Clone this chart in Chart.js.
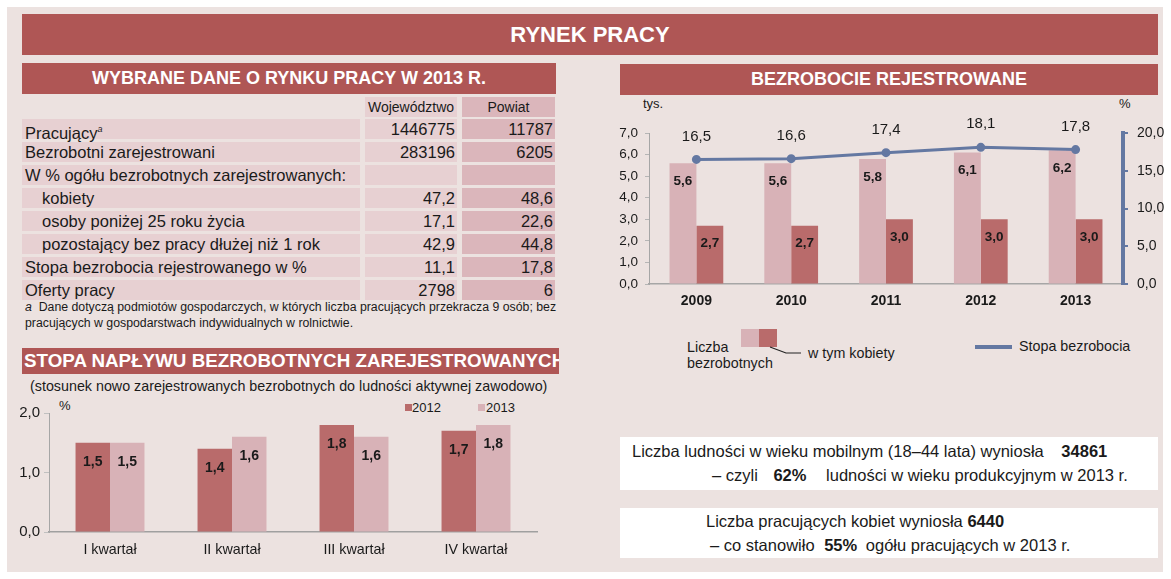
<!DOCTYPE html>
<html>
<head>
<meta charset="utf-8">
<script src="https://cdn.jsdelivr.net/npm/chart.js@4/dist/chart.umd.min.js"></script>
<style>
  body { margin: 0; width: 1171px; height: 579px; background: #fff; position: relative; overflow: hidden;
         font-family: "Liberation Sans", Arial, sans-serif; color: #1a1a1a; }
  .abs { position: absolute; }
  .bar { position: absolute; background: #af5655; color: #fff; font-weight: bold; display: flex;
         align-items: center; justify-content: center; white-space: nowrap; overflow: hidden; }
  .cell { position: absolute; height: 20px; line-height: 20px; font-size: 16.5px; white-space: nowrap; }
  .txt { position: absolute; white-space: nowrap; }
  .box { position: absolute; background: #fff; left: 620px; width: 538px; }
  .box div { position: absolute; font-size: 16.5px; white-space: nowrap; }
</style>
</head>
<body>
<div class="abs" style="left:7px;top:7px;width:1156px;height:565px;background:#ece2e0"></div>

<div class="bar" style="left:22px;top:14px;width:1136px;height:41px;font-size:22px">RYNEK PRACY</div>
<div class="bar" style="left:22px;top:63px;width:534px;height:31px;font-size:18px">WYBRANE DANE O RYNKU PRACY W 2013 R.</div>
<div class="bar" style="left:620px;top:64px;width:538px;height:31px;font-size:18px">BEZROBOCIE REJESTROWANE</div>
<div class="bar" style="left:22px;top:348px;width:535px;height:26px;font-size:18.8px;justify-content:flex-start;padding-left:2px">STOPA NAPŁYWU BEZROBOTNYCH ZAREJESTROWANYCH</div>

<div id="table"></div>
<div class="txt" style="left:25px;top:300px;font-size:12.3px"><i>a</i>&nbsp; Dane dotyczą podmiotów gospodarczych, w których liczba pracujących przekracza 9 osób; bez</div>
<div class="txt" style="left:25px;top:316px;font-size:12.3px">pracujących w gospodarstwach indywidualnych w rolnictwie.</div>

<div class="txt" style="left:30px;top:378px;font-size:14.3px">(stosunek nowo zarejestrowanych bezrobotnych do ludności aktywnej zawodowo)</div>
<div class="txt" style="left:59px;top:398px;font-size:13px">%</div>
<div id="legendInflow"></div>
<div class="abs" style="left:0;top:395px"><canvas id="inflowChart" width="560" height="170"></canvas></div>

<div class="txt" style="left:643px;top:96px;font-size:13px">tys.</div>
<div class="txt" style="left:1119px;top:96px;font-size:13px">%</div>
<div class="abs" style="left:600px;top:96px"><canvas id="unempChart" width="571" height="214"></canvas></div>
<div id="legendUnemp"></div>

<div class="box" style="top:437px;height:53px">
  <div style="left:12px;top:5px">Liczba ludności w wieku mobilnym (18–44 lata) wyniosła <b style="margin-left:13px">34861</b></div>
  <div style="left:92px;top:29px">– czyli <b style="margin-left:11px">62%</b> <span style="margin-left:15px">ludności w wieku produkcyjnym w 2013 r.</span></div>
</div>
<div class="box" style="top:508px;height:50px">
  <div style="left:86px;top:4px">Liczba pracujących kobiet wyniosła <b>6440</b></div>
  <div style="left:90px;top:28px">– co stanowiło <b style="margin-left:5px">55%</b> <span style="margin-left:4px">ogółu pracujących w 2013 r.</span></div>
</div>

<script>
// table: wybrane dane o rynku pracy
const tableLabels = ['Pracujący', 'Bezrobotni zarejestrowani', 'W % ogółu bezrobotnych zarejestrowanych:',
    'kobiety', 'osoby poniżej 25 roku życia', 'pozostający bez pracy dłużej niż 1 rok',
    'Stopa bezrobocia rejestrowanego w %', 'Oferty pracy'];
const tableVoivodeship = ['1446775', '283196', '', '47,2', '17,1', '42,9', '11,1', '2798'];
const tableDistrict = ['11787', '6205', '', '48,6', '22,6', '44,8', '17,8', '6'];
const indentedRows = [3, 4, 5];

// bezrobocie rejestrowane
const years = ['2009', '2010', '2011', '2012', '2013'];
const unemployedTotal = [5.6, 5.6, 5.8, 6.1, 6.2];
const unemployedWomen = [2.7, 2.7, 3.0, 3.0, 3.0];
const unemploymentRate = [16.5, 16.6, 17.4, 18.1, 17.8];
const leftTicks = [0, 1, 2, 3, 4, 5, 6, 7];
const rightTicks = [0, 5, 10, 15, 20];

// stopa napływu
const quarters = ['I kwartał', 'II kwartał', 'III kwartał', 'IV kwartał'];
const inflow2012 = [1.5, 1.4, 1.8, 1.7];
const inflow2013 = [1.5, 1.6, 1.6, 1.8];
const inflowTicks = [0, 1, 2];

const BAR_LIGHT = '#d8b2b7';
const BAR_DARK = '#b96b6b';
const LINE_BLUE = '#6478a2';
const CELL = '#e7d0d2';
const CELL_DARK = '#dbb6bb';
const FONT = '"Liberation Sans", Arial, sans-serif';

const fmt = v => Number(v).toFixed(1).replace('.', ',');

// build table
const table = document.getElementById('table');
let html = '<div class="cell" style="left:365px;top:97px;width:92px;background:' + CELL + ';font-size:14px;text-align:center">Województwo</div>';
html += '<div class="cell" style="left:462px;top:97px;width:93px;background:' + CELL_DARK + ';font-size:14px;text-align:center">Powiat</div>';
tableLabels.forEach((label, i) => {
    const top = 119 + i * 23;
    const pad = indentedRows.includes(i) ? 20 : 3;
    const sup = i === 0 ? '<sup style="font-size:9px;font-style:italic">a</sup>' : '';
    html += `<div class="cell" style="left:22px;top:${top}px;width:${338 - pad}px;padding-left:${pad}px;background:${CELL}">${label}${sup}</div>`;
    html += `<div class="cell" style="left:365px;top:${top}px;width:90px;padding-right:2px;text-align:right;background:${CELL}">${tableVoivodeship[i]}</div>`;
    html += `<div class="cell" style="left:462px;top:${top}px;width:91px;padding-right:2px;text-align:right;background:${CELL_DARK}">${tableDistrict[i]}</div>`;
});
table.innerHTML = html;

// legends
document.getElementById('legendInflow').innerHTML =
    `<div class="abs" style="left:405px;top:404px;width:7px;height:7px;background:${BAR_DARK}"></div>
     <div class="txt" style="left:412px;top:400px;font-size:13px">2012</div>
     <div class="abs" style="left:478px;top:404px;width:7px;height:7px;background:${BAR_LIGHT}"></div>
     <div class="txt" style="left:486px;top:400px;font-size:13px">2013</div>`;

document.getElementById('legendUnemp').innerHTML =
    `<div class="abs" style="left:741px;top:329px;width:18px;height:18px;background:${BAR_LIGHT}"></div>
     <div class="abs" style="left:759px;top:329px;width:18px;height:18px;background:${BAR_DARK}"></div>
     <div class="txt" style="left:687px;top:339px;font-size:14.3px;line-height:16px">Liczba<br>bezrobotnych</div>
     <svg class="abs" style="left:765px;top:340px" width="40" height="20"><polyline points="5,7 21,13 36,13" fill="none" stroke="#222" stroke-width="1.2"/></svg>
     <div class="txt" style="left:808px;top:345px;font-size:14.3px">w tym kobiety</div>
     <div class="abs" style="left:975px;top:345px;width:37px;height:4px;background:${LINE_BLUE}"></div>
     <div class="txt" style="left:1019px;top:338px;font-size:14.3px">Stopa bezrobocia</div>`;

// value labels drawn from the chart elements
const valueLabels = {
    id: 'valueLabels',
    afterDatasetsDraw(chart) {
        const ctx = chart.ctx;
        ctx.save();
        ctx.textAlign = 'center';
        ctx.textBaseline = 'middle';
        ctx.fillStyle = '#1a1a1a';
        chart.data.datasets.forEach((ds, i) => {
            const meta = chart.getDatasetMeta(i);
            ctx.font = ds.labelFont;
            meta.data.forEach((el, j) => {
                ctx.fillText(fmt(ds.data[j]), el.x, el.y + ds.labelOffset);
            });
        });
        ctx.restore();
    }
};

new Chart(document.getElementById('unempChart'), {
    data: {
        labels: years,
        datasets: [{
            type: 'line',
            data: unemploymentRate,
            yAxisID: 'y1',
            borderColor: LINE_BLUE,
            backgroundColor: LINE_BLUE,
            borderWidth: 3,
            pointRadius: 3,
            order: 0,
            labelFont: '15px ' + FONT,
            labelOffset: -23
        }, {
            type: 'bar',
            data: unemployedTotal,
            yAxisID: 'y',
            backgroundColor: BAR_LIGHT,
            barPercentage: 1,
            categoryPercentage: 0.567,
            order: 1,
            labelFont: 'bold 13.5px ' + FONT,
            labelOffset: 18
        }, {
            type: 'bar',
            data: unemployedWomen,
            yAxisID: 'y',
            backgroundColor: BAR_DARK,
            barPercentage: 1,
            categoryPercentage: 0.567,
            order: 1,
            labelFont: 'bold 13.5px ' + FONT,
            labelOffset: 18
        }]
    },
    options: {
        responsive: false,
        animation: false,
        layout: { padding: { top: 37 } },
        plugins: { legend: { display: false }, tooltip: { enabled: false } },
        scales: {
            x: {
                grid: { drawOnChartArea: false, drawTicks: false },
                border: { color: '#a6a6a6', width: 1.5 },
                ticks: { color: '#1a1a1a', font: { family: FONT, size: 14, weight: 'bold' }, padding: 9 },
                afterFit: s => { s.height = 26; }
            },
            y: {
                min: leftTicks[0],
                max: leftTicks[leftTicks.length - 1],
                afterBuildTicks: s => { s.ticks = leftTicks.map(v => ({ value: v })); },
                grid: { drawOnChartArea: false, tickLength: 4, color: '#b5b5b5' },
                border: { color: '#a6a6a6' },
                ticks: { color: '#1a1a1a', font: { family: FONT, size: 13.5 }, padding: 7, callback: v => fmt(v) },
                afterFit: s => { s.width = 49; }
            },
            y1: {
                position: 'right',
                min: rightTicks[0],
                max: rightTicks[rightTicks.length - 1],
                afterBuildTicks: s => { s.ticks = rightTicks.map(v => ({ value: v })); },
                grid: { drawOnChartArea: false, tickLength: 5, color: LINE_BLUE, lineWidth: 2 },
                border: { color: LINE_BLUE, width: 4 },
                ticks: { color: '#1a1a1a', font: { family: FONT, size: 14 }, padding: 9, callback: v => fmt(v) },
                afterFit: s => { s.width = 48; }
            }
        }
    },
    plugins: [valueLabels]
});

new Chart(document.getElementById('inflowChart'), {
    type: 'bar',
    data: {
        labels: quarters,
        datasets: [{
            data: inflow2012,
            backgroundColor: BAR_DARK,
            barPercentage: 1,
            categoryPercentage: 0.565,
            labelFont: 'bold 14px ' + FONT,
            labelOffset: 19
        }, {
            data: inflow2013,
            backgroundColor: BAR_LIGHT,
            barPercentage: 1,
            categoryPercentage: 0.565,
            labelFont: 'bold 14px ' + FONT,
            labelOffset: 19
        }]
    },
    options: {
        responsive: false,
        animation: false,
        layout: { padding: { top: 18, right: 23 } },
        plugins: { legend: { display: false }, tooltip: { enabled: false } },
        scales: {
            x: {
                grid: { drawOnChartArea: false, drawTicks: false },
                border: { color: '#a0a0a0', width: 1.5 },
                ticks: { color: '#1a1a1a', font: { family: FONT, size: 14.3 }, padding: 9 },
                afterFit: s => { s.height = 33; }
            },
            y: {
                min: inflowTicks[0],
                max: inflowTicks[inflowTicks.length - 1],
                afterBuildTicks: s => { s.ticks = inflowTicks.map(v => ({ value: v })); },
                grid: { drawOnChartArea: false, tickLength: 5, color: '#c0c0c0' },
                border: { color: '#a6a6a6' },
                ticks: { color: '#1a1a1a', font: { family: FONT, size: 15 }, padding: 4, callback: v => fmt(v) },
                afterFit: s => { s.width = 49; }
            }
        }
    },
    plugins: [valueLabels]
});
</script>
</body>
</html>
